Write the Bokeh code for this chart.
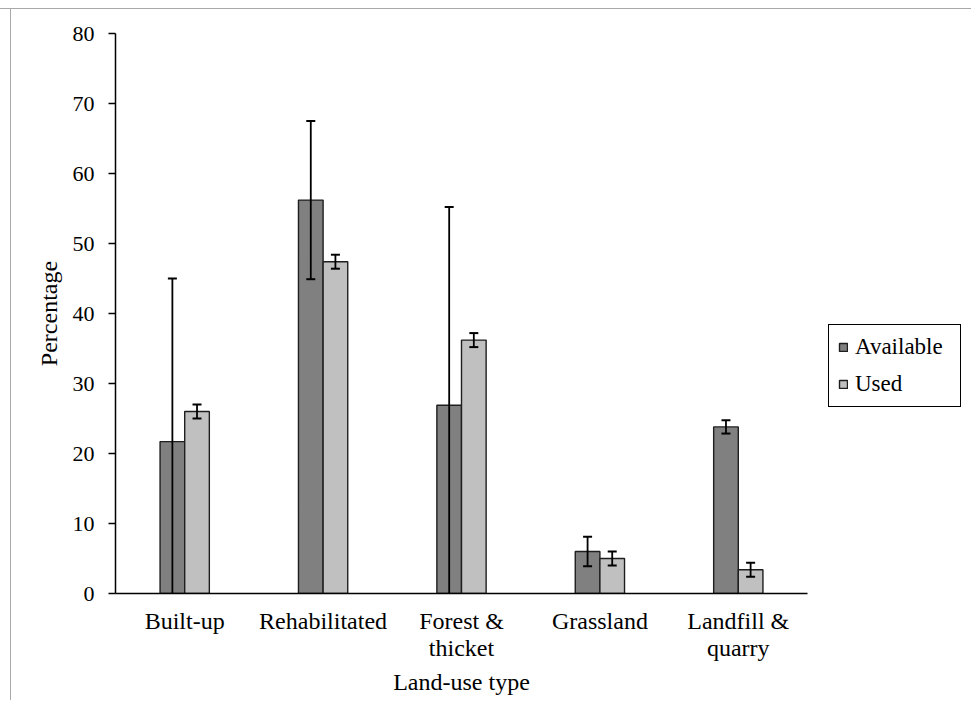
from bokeh.plotting import figure
from bokeh.models import FactorRange, Legend, LegendItem, ColumnDataSource, FixedTicker
from bokeh.transform import dodge
from bokeh.embed import file_html
from bokeh.resources import INLINE

categories = ["Built-up", "Rehabilitated", "Forest &\nthicket", "Grassland", "Landfill &\nquarry"]
series_names = ["Available", "Used"]
available = [21.7, 56.2, 26.9, 6.0, 23.8]
available_err = [23.3, 11.3, 28.3, 2.1, 0.95]
used = [26.0, 47.4, 36.2, 5.0, 3.4]
used_err = [1.0, 1.0, 1.0, 1.0, 1.0]
y_ticks = [0, 10, 20, 30, 40, 50, 60, 70, 80]

FONT = "Liberation Serif"
FS = "24px"
TICK_FS = "22px"
COLORS = ["#808080", "#c0c0c0"]
EDGE = "#1e1e1e"

src = ColumnDataSource(dict(
    cat=categories,
    available=available,
    av_hi=[v + e for v, e in zip(available, available_err)],
    av_lo=[v - e for v, e in zip(available, available_err)],
    used=used,
    us_hi=[v + e for v, e in zip(used, used_err)],
    us_lo=[v - e for v, e in zip(used, used_err)],
))

p = figure(frame_width=692, frame_height=560, x_range=FactorRange(*categories), y_range=(0, 80),
           output_backend="svg", toolbar_location=None,
           min_border_left=115, min_border_right=0, min_border_top=33, min_border_bottom=107)
p.outline_line_color = None
p.xgrid.grid_line_color = None
p.ygrid.grid_line_color = None
p.border_fill_alpha = 0
p.styles = {"background": "linear-gradient(#a8a8a8,#a8a8a8) 0 8px / 100% 1px no-repeat, "
                          "linear-gradient(#a8a8a8,#a8a8a8) 10px 8px / 1px 100% no-repeat, white"}

bw = 0.178
off = bw / 2
r_av = p.vbar(x=dodge("cat", -off, range=p.x_range), top="available", width=bw, source=src,
              fill_color=COLORS[0], line_color=EDGE, line_width=1.4)
r_us = p.vbar(x=dodge("cat", off, range=p.x_range), top="used", width=bw, source=src,
              fill_color=COLORS[1], line_color=EDGE, line_width=1.4)

for o, hi, lo in [(-off, "av_hi", "av_lo"), (off, "us_hi", "us_lo")]:
    xx = dodge("cat", o, range=p.x_range)
    p.segment(x0=xx, y0=lo, x1=xx, y1=hi, source=src, line_color="black", line_width=1.8)
    p.scatter(x=xx, y=hi, source=src, marker="dash", size=9, line_color="black", line_width=2)
    p.scatter(x=xx, y=lo, source=src, marker="dash", size=9, line_color="black", line_width=2)

# axes
p.yaxis.ticker = FixedTicker(ticks=y_ticks)
p.yaxis.minor_tick_line_color = None
p.yaxis.major_tick_out = 7
p.yaxis.major_tick_in = 0
p.yaxis.axis_line_width = 1.5
p.yaxis.major_tick_line_width = 1.5
p.yaxis.major_tick_line_color = "black"
p.yaxis.major_label_standoff = 14
p.yaxis.axis_label = "Percentage"
p.yaxis.axis_label_standoff = 8

p.xaxis.axis_label = "Land-use type"
p.xaxis.major_tick_line_color = None
p.xaxis.minor_tick_line_color = None
p.xaxis.axis_line_width = 1.5
p.xaxis.major_label_standoff = 8
p.xaxis.axis_label_standoff = 5
p.xaxis.major_label_text_line_height = 1.07

for ax in (p.xaxis[0], p.yaxis[0]):
    ax.axis_line_color = "black"
    ax.major_label_text_font = FONT
    ax.major_label_text_color = "black"
    ax.axis_label_text_font = FONT
    ax.axis_label_text_font_size = FS
    ax.axis_label_text_font_style = "normal"
    ax.axis_label_text_color = "black"
p.xaxis.major_label_text_font_size = FS
p.yaxis.major_label_text_font_size = TICK_FS

legend = Legend(items=[LegendItem(label=series_names[0], renderers=[r_av]),
                       LegendItem(label=series_names[1], renderers=[r_us])],
                location=(21, 186))
legend.border_line_color = "black"
legend.border_line_alpha = 1.0
legend.border_line_width = 1.5
legend.label_text_font = FONT
legend.label_text_font_size = "23px"
legend.label_text_color = "black"
legend.glyph_width = 10
legend.glyph_height = 10
legend.label_width = 96
legend.padding = 9
legend.spacing = 11
legend.label_standoff = 7
legend.margin = 0
legend.background_fill_alpha = 1
p.add_layout(legend, "right")

open("out.html", "w").write(file_html(p, INLINE))
